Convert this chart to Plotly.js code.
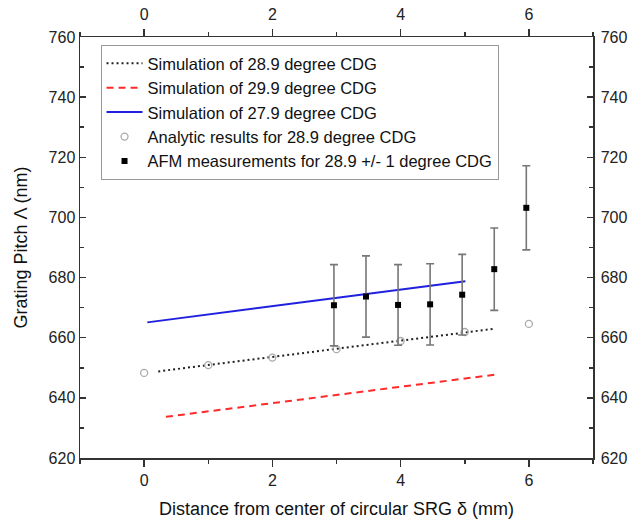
<!DOCTYPE html>
<html>
<head>
<meta charset="utf-8">
<script src="https://cdn.plot.ly/plotly-3.0.1.min.js"></script>
<style>html,body{margin:0;padding:0;background:#fff;}#chart{width:632px;height:523px;}</style>
</head>
<body>
<div id="chart"></div>
<script>
// Simulation lines (endpoints)
const sim289X = [0.22, 5.47];
const sim289Y = [648.8, 663.0];
const sim299X = [0.34, 5.47];
const sim299Y = [633.7, 647.7];
const sim279X = [0.05, 5.01];
const sim279Y = [665.1, 678.8];
// Analytic results
const anaX = [0, 1, 2, 3, 4, 5, 6];
const anaY = [648.3, 650.9, 653.4, 656.2, 658.9, 661.9, 664.6];
// AFM measurements
const afmX = [2.96, 3.46, 3.96, 4.46, 4.96, 5.46, 5.96];
const afmY = [670.8, 673.7, 670.9, 671.1, 674.3, 682.8, 703.2];
const afmErr = [13.5, 13.5, 13.4, 13.5, 13.4, 13.7, 14.0];
// Axis ticks
const xTicks = [0, 2, 4, 6];
const yTicks = [620, 640, 660, 680, 700, 720, 740, 760];

const font = "Liberation Sans, Arial, sans-serif";

const traces = [
  {x: sim289X, y: sim289Y, mode: 'lines', name: 'Simulation of 28.9 degree CDG',
   line: {color: '#222', dash: '2px,3px', width: 2}},
  {x: sim299X, y: sim299Y, mode: 'lines', name: 'Simulation of 29.9 degree CDG',
   line: {color: '#ff2a2a', dash: '7px,5px', width: 2}},
  {x: sim279X, y: sim279Y, mode: 'lines', name: 'Simulation of 27.9 degree CDG',
   line: {color: '#2020e0', width: 2}},
  {x: anaX, y: anaY, mode: 'markers', name: 'Analytic results for 28.9 degree CDG',
   marker: {symbol: 'circle-open', size: 7, color: '#aaa', line: {width: 1.3, color: '#aaa'}}},
  {x: afmX, y: afmY, mode: 'markers', name: 'AFM measurements for 28.9 +/- 1 degree CDG',
   marker: {symbol: 'square', size: 6, color: '#000'},
   error_y: {type: 'data', array: afmErr, visible: true, color: '#777', thickness: 1.6, width: 4}},
  {x: afmX, y: afmY, xaxis: 'x2', yaxis: 'y2', mode: 'markers', showlegend: false,
   hoverinfo: 'skip', marker: {opacity: 0}}
];

const axCommon = {
  showgrid: false, zeroline: false, showline: true, linecolor: '#333', linewidth: 1.5,
  tickcolor: '#333', tickwidth: 1.5, tickfont: {family: font, size: 16, color: '#222'}
};

const layout = {
  width: 632, height: 523,
  margin: {l: 80, r: 39, t: 37, b: 65},
  paper_bgcolor: '#fff', plot_bgcolor: '#fff',
  showlegend: true,
  legend: {x: 0.04, y: 0.981, xanchor: 'left', yanchor: 'top', bgcolor: '#fff',
    bordercolor: '#999', borderwidth: 1, font: {family: font, size: 16.5, color: '#111'},
    tracegroupgap: 0, itemwidth: 36},
  xaxis: Object.assign({}, axCommon, {range: [-1, 7], tickvals: xTicks, ticks: 'outside', ticklen: 7,
    ticklabelstandoff: 0,
    minor: {dtick: 1, ticks: 'outside', ticklen: 4, tickcolor: '#333'},
    title: {text: 'Distance from center of circular SRG δ (mm)', font: {family: font, size: 18, color: '#111'}, standoff: 14}}),
  yaxis: Object.assign({}, axCommon, {range: [620, 760], tickvals: yTicks, ticks: 'inside', ticklen: 6,
    minor: {dtick: 10, ticks: 'inside', ticklen: 4, tickcolor: '#333'},
    title: {text: 'Grating Pitch Λ (nm)', font: {family: font, size: 18, color: '#111'}, standoff: 16}}),
  xaxis2: Object.assign({}, axCommon, {range: [-1, 7], tickvals: xTicks, ticks: 'outside', ticklen: 7,
    ticklabelstandoff: 2,
    overlaying: 'x', side: 'top', anchor: 'y2',
    minor: {dtick: 1, ticks: 'outside', ticklen: 4, tickcolor: '#333'}}),
  yaxis2: Object.assign({}, axCommon, {range: [620, 760], tickvals: yTicks, ticks: 'inside', ticklen: 6,
    overlaying: 'y', side: 'right', anchor: 'x2', ticklabelstandoff: 3,
    minor: {dtick: 10, ticks: 'inside', ticklen: 4, tickcolor: '#333'}})
};

Plotly.newPlot('chart', traces, layout, {displayModeBar: false, staticPlot: true});
</script>
</body>
</html>
